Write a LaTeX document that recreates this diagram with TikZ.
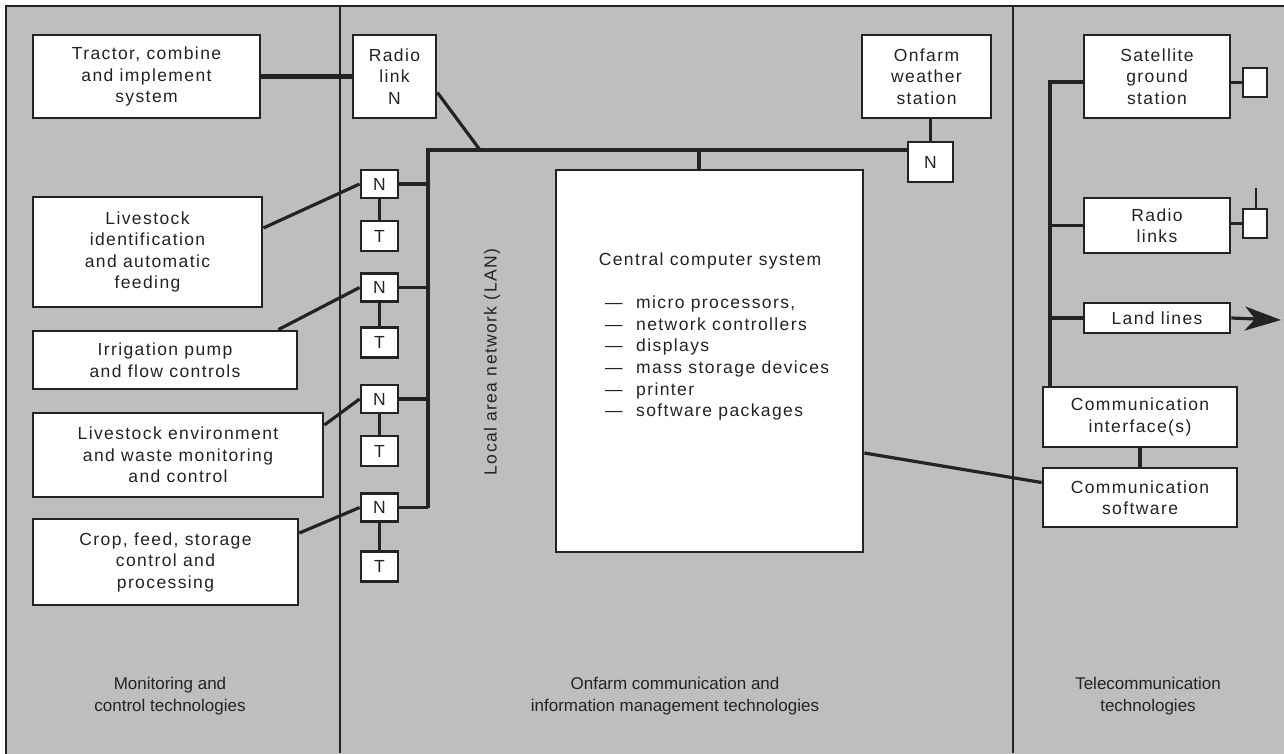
\documentclass[tikz,border=0pt]{standalone}
\usepackage{fontspec}
\setmainfont{Liberation Sans}[LetterSpace=8]
\newfontfamily\capfont{Liberation Sans}
\usepackage{tikz}
\usetikzlibrary{arrows.meta,positioning,calc}
\definecolor{panelgray}{RGB}{190,190,190}
\definecolor{ink}{RGB}{35,35,35}

\begin{document}
\begin{tikzpicture}[
  x=1pt, y=-1pt,
  font=\fontsize{17.5}{21.5}\selectfont,
  box/.style={draw=ink, line width=2.8pt, fill=white, align=center,
    inner sep=2pt, text=ink},
  nbox/.style={box, minimum width=37pt, minimum height=28pt},
  tbox/.style={box, minimum width=37pt, minimum height=30pt},
  wire/.style={draw=ink, line width=3.2pt},
  divider/.style={draw=ink, line width=2pt},
  caption/.style={font=\capfont\fontsize{17}{21.5}\selectfont, align=center, text=ink},
]
  \useasboundingbox (0,0) rectangle (1284,753);
  \fill[white] (0,0) rectangle (1284,753);
  \filldraw[fill=panelgray, divider] (6,6) rectangle (1295,765);
  \draw[divider] (340,6) -- (340,753);
  \draw[divider] (1013,6) -- (1013,753);

  % monitoring and control
  \node[box, minimum width=227pt, minimum height=83pt] (tractor) at (146.5,76.5)
    {Tractor, combine\\and implement\\system};
  \node[box, minimum width=229pt, minimum height=110pt] (livid) at (147.5,252)
    {Livestock\\identification\\and automatic\\feeding};
  \node[box, minimum width=264pt, minimum height=58pt] (irr) at (165,360)
    {Irrigation pump\\and flow controls};
  \node[box, minimum width=290pt, minimum height=84pt] (env) at (178,455)
    {Livestock environment\\and waste monitoring\\and control};
  \node[box, minimum width=265pt, minimum height=86pt] (crop) at (165.5,562)
    {Crop, feed, storage\\control and\\processing};

  % onfarm LAN
  \node[box, minimum width=83pt, minimum height=83pt] (radio) at (394.5,76.5)
    {Radio\\link\\N};
  \node[box, minimum width=129pt, minimum height=83pt] (weather) at (926.5,76.5)
    {Onfarm\\weather\\station};
  \node[box, minimum width=45pt, minimum height=40pt] (nw) at (930.5,162) {N};
  \node[box, minimum width=307pt, minimum height=382pt] (central) at (709.5,361) {};
  \node[text=ink] (cctitle) at (710,261) {Central computer system};
  \node[anchor=north west, align=left, inner sep=0pt, text=ink,
    font=\fontsize{17.5}{21.7}\selectfont] (cclist) at (605,295.5)
    {\makebox[31pt][l]{---}micro processors,\\
     \makebox[31pt][l]{---}network controllers\\
     \makebox[31pt][l]{---}displays\\
     \makebox[31pt][l]{---}mass storage devices\\
     \makebox[31pt][l]{---}printer\\
     \makebox[31pt][l]{---}software packages};
  \node[rotate=90, text=ink] (lan) at (492,362) {Local area network (LAN)};

  \coordinate (lan0) at (428,150);
  \coordinate (rj) at (480,150);
  \coordinate (cj) at (699,150);

  \foreach \i/\ny/\ty in {1/184/236, 2/287.5/342.5, 3/399/451, 4/507.5/566.5} {
    \node[nbox] (n\i) at (379.5,\ny) {N};
    \node[tbox] (t\i) at (379.5,\ty) {T};
    \draw[wire] (n\i) -- (t\i);
    \draw[wire] (n\i.east) -- (n\i.east -| lan0);
  }

  \draw[wire] (lan0 |- n4.east) -- (lan0) -- (lan0 -| nw.west);
  \draw[wire] (cj) -- (cj |- central.north);
  \draw[wire] (nw.north) -- (nw.north |- weather.south);
  \draw[wire] ([yshift=-16pt]radio.east) -- (rj);
  \draw[draw=ink, line width=4.5pt] (tractor.east) -- (radio.west);

  \draw[wire] ([yshift=24pt]livid.east) -- (n1.west);
  \draw[wire] ([xshift=-20pt]irr.north east) -- (n2.west);
  \draw[wire] ([yshift=30pt]env.east) -- (n3.west);
  \draw[wire] ([yshift=29pt]crop.east) -- (n4.west);

  % telecommunication
  \node[box, minimum width=146pt, minimum height=83pt] (sat) at (1157,76.5)
    {Satellite\\ground\\station};
  \node[box, minimum width=24pt, minimum height=29pt] (satsq) at (1255,82.5) {};
  \node[box, minimum width=146pt, minimum height=55pt] (radios) at (1157,225.5)
    {Radio\\links};
  \node[box, minimum width=24pt, minimum height=29pt] (radsq) at (1255,223.5) {};
  \node[box, minimum width=146pt, minimum height=30pt] (land) at (1157,318)
    {Land lines};
  \node[box, minimum width=194pt, minimum height=60pt] (ci) at (1140,417)
    {Communication\\interface(s)};
  \node[box, minimum width=194pt, minimum height=59pt] (cs) at (1140,497.5)
    {Communication\\software};

  \coordinate (tt) at (1050,82);
  \coordinate (ant) at (1256,188);
  \coordinate (arr) at (1281,320);

  \draw[wire] (tt -| sat.west) -- (tt) -- (tt |- ci.north);
  \draw[wire] (tt |- radios.west) -- (radios.west);
  \draw[wire] (tt |- land.west) -- (land.west);
  \draw[wire] (satsq.west -| sat.east) -- (satsq.west);
  \draw[wire] (radsq.west -| radios.east) -- (radsq.west);
  \draw[draw=ink, line width=2.2pt] (ant |- radsq.north) -- (ant);
  \draw[wire, -{Stealth[length=36pt, width=24pt, inset=10pt]}, fill=ink] (land.east) -- (arr);
  \draw[wire] (ci.south) -- (cs.north);
  \draw[wire] ([yshift=-92pt]central.east) -- ([yshift=15pt]cs.west);

  % captions
  \node[caption] (capmon) at (170,696) {Monitoring and\\control technologies};
  \node[caption] (capfarm) at (675,696) {Onfarm communication and\\information management technologies};
  \node[caption] (captel) at (1148,696) {Telecommunication\\technologies};
\end{tikzpicture}
\end{document}
